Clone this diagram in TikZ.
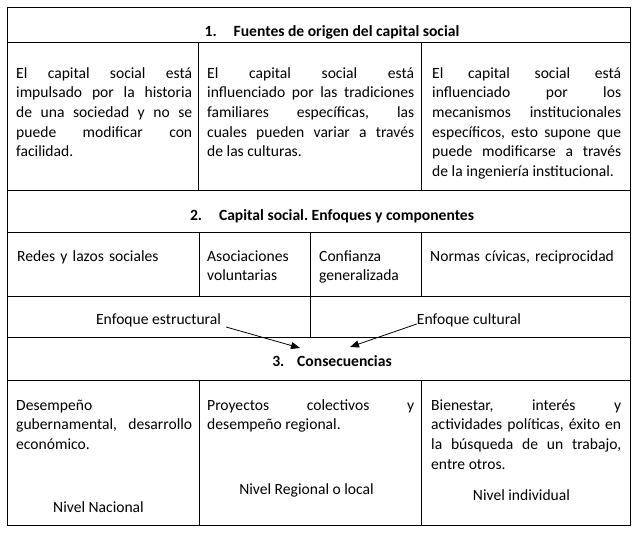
\documentclass[tikz,border=0pt]{standalone}
\usepackage{fontspec}
\setmainfont{Carlito}
\usetikzlibrary{arrows.meta}
\hyphenpenalty=10000 \exhyphenpenalty=10000 \tolerance=10000 \hbadness=10000
\frenchspacing
\begin{document}
\begin{tikzpicture}[x=1pt,y=-1pt,
  grid/.style={line width=1pt, black},
  txt/.style={font=\fontsize{15.6}{19.7}\selectfont, inner sep=0pt},
  para/.style={txt, anchor=base west, align=justify, text width=#1},
  hd/.style={inner sep=0pt, font=\fontsize{15.6}{19.7}\selectfont\bfseries, anchor=base},
  lbl/.style={txt, anchor=base},
  arr/.style={line width=0.8pt, -{Triangle[length=9pt,width=7pt]}}
]
\useasboundingbox (0,0) rectangle (638,533);
% grid
\draw[grid] (7,7) rectangle (630,525);
\foreach \yy in {42,190,232,296,337,380} \draw[grid] (7,\yy) -- (630,\yy);
\draw[grid] (198,42) -- (198,190);
\draw[grid] (421,42) -- (421,190);
\draw[grid] (199,232) -- (199,296);
\draw[grid] (310,232) -- (310,296);
\draw[grid] (421,232) -- (421,296);
\draw[grid] (310,296) -- (310,337);
\draw[grid] (199,380) -- (199,525);
\draw[grid] (421,380) -- (421,525);

% section 1
\node[hd] (h1) at (332,36) {\makebox[29pt][l]{1.}Fuentes de origen del capital social};
\node[para=176pt] (f1) at (16,78) {El capital social está\linebreak impulsado por la historia\linebreak de una sociedad y no se\linebreak puede modificar con\linebreak facilidad.};
\node[para=207pt] (f2) at (207,78) {El capital social está\linebreak influenciado por las tradiciones\linebreak familiares específicas, las\linebreak cuales pueden variar a través\linebreak de las culturas.};
\node[para=189pt] (f3) at (432,78) {El capital social está\linebreak influenciado por los\linebreak mecanismos institucionales\linebreak específicos, esto supone que\linebreak puede modificarse a través\linebreak de la ingeniería institucional.};

% section 2
\node[hd] (h2) at (332,220) {\makebox[29pt][l]{2.}Capital social. Enfoques y componentes};
\node[para=175pt, align=left] (c1) at (17,261) {Redes y lazos sociales};
\node[para=100pt, align=left] (c2) at (207,261) {Asociaciones\\voluntarias};
\node[para=100pt, align=left] (c3) at (319,261) {Confianza\\generalizada};
\node[para=195pt, align=left] (c4) at (430,261) {Normas cívicas, reciprocidad};
\node[lbl] (estr) at (158.5,324) {Enfoque estructural};
\node[lbl] (cult) at (469,324) {Enfoque cultural};

% section 3
\node[hd] (h3) at (332,366) {\makebox[25pt][l]{3.}Consecuencias};
\coordinate (tipA) at (300,348);
\coordinate (tipB) at (350,347);
\draw[arr] ([xshift=5pt,yshift=-3pt]estr.base east) -- (tipA);
\draw[arr] (cult.base west) -- (tipB);

\node[para=176pt] (s1) at (16,410) {Desempeño\\gubernamental, desarrollo\linebreak económico.};
\node[para=207pt] (s2) at (207,410) {Proyectos colectivos y\linebreak desempeño regional.};
\node[para=190pt] (s3) at (431,410) {Bienestar, interés y\linebreak actividades políticas, éxito en\linebreak la búsqueda de un trabajo,\linebreak entre otros.};
\node[lbl] (n1) at (98.5,512) {Nivel Nacional};
\node[lbl] (n2) at (306.5,494) {Nivel Regional o local};
\node[lbl] (n3) at (521.5,500) {Nivel individual};
\end{tikzpicture}
\end{document}
